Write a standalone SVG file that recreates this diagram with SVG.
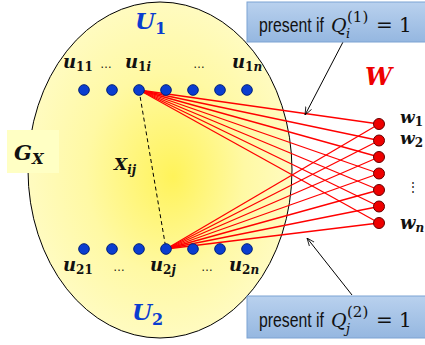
<svg xmlns="http://www.w3.org/2000/svg" width="425" height="345" viewBox="0 0 425 345">
<defs>
<radialGradient id="yel" cx="0.5" cy="0.5" r="0.5" fx="0.55" fy="0.52">
<stop offset="0" stop-color="#fff35a"/>
<stop offset="0.6" stop-color="#fff9a4"/>
<stop offset="1" stop-color="#fffbc0"/>
</radialGradient>
<linearGradient id="blu" x1="0" y1="0" x2="0" y2="1">
<stop offset="0" stop-color="#b9d1ee"/>
<stop offset="1" stop-color="#95b7e0"/>
</linearGradient>
<marker id="arr" viewBox="0 0 10 10" refX="10" refY="5" markerWidth="8" markerHeight="8" orient="auto" markerUnits="userSpaceOnUse">
<path d="M0,1 L10,5 L0,9" fill="none" stroke="#000" stroke-width="1"/>
</marker>
</defs>
<style>
.m{font-family:"DejaVu Serif","Liberation Serif",serif;font-weight:bold;font-style:italic;fill:#111}
.u{font-size:18px}
.s{font-size:12px;font-style:normal}
.si{font-size:12px}
.dots{font-family:"Liberation Sans",sans-serif;font-size:12px;fill:#111}
.bd{fill:#0a3dd0;stroke:#00207a;stroke-width:1}
.rd{fill:#ee0000;stroke:#600;stroke-width:1}
.re{stroke:#ff0000;stroke-width:1.3;fill:none}
.box{fill:url(#blu);stroke:#7da3d3;stroke-width:1}
.bt{font-family:"Liberation Sans","Open Sans",sans-serif;font-size:20px;fill:#111}
.q{font-family:"DejaVu Serif","Liberation Serif",serif;fill:#111}
</style>
<g id="ellipse">
<ellipse cx="160" cy="170" rx="132" ry="168" fill="url(#yel)" stroke="#000" stroke-width="1"/>
</g>
<g id="connectors">
<line x1="139" y1="90" x2="166" y2="249" stroke="#000" stroke-width="1" stroke-dasharray="4,3"/>
<g class="re">
<line x1="139" y1="90" x2="379" y2="124"/>
<line x1="139" y1="90" x2="379" y2="140.5"/>
<line x1="139" y1="90" x2="379" y2="157"/>
<line x1="139" y1="90" x2="379" y2="173.5"/>
<line x1="139" y1="90" x2="379" y2="190"/>
<line x1="139" y1="90" x2="379" y2="206.5"/>
<line x1="139" y1="90" x2="379" y2="223"/>
<line x1="166" y1="249" x2="379" y2="124"/>
<line x1="166" y1="249" x2="379" y2="140.5"/>
<line x1="166" y1="249" x2="379" y2="157"/>
<line x1="166" y1="249" x2="379" y2="173.5"/>
<line x1="166" y1="249" x2="379" y2="190"/>
<line x1="166" y1="249" x2="379" y2="206.5"/>
<line x1="166" y1="249" x2="379" y2="223"/>
</g>
<line x1="343" y1="42" x2="305" y2="115" stroke="#000" stroke-width="1" marker-end="url(#arr)"/>
<line x1="352" y1="295" x2="307" y2="238" stroke="#000" stroke-width="1" marker-end="url(#arr)"/>
</g>
<g id="U1">
<text x="135" y="29" class="m" font-size="23" style="fill:#0a3dd0">U<tspan font-size="16" font-style="normal" dy="5">1</tspan></text>
<g id="u1-dots">
<circle class="bd" cx="84" cy="90" r="5.3"/>
<circle class="bd" cx="112" cy="90" r="5.3"/>
<circle class="bd" cx="139" cy="90" r="5.3"/>
<circle class="bd" cx="166" cy="90" r="5.3"/>
<circle class="bd" cx="193" cy="90" r="5.3"/>
<circle class="bd" cx="220" cy="90" r="5.3"/>
<circle class="bd" cx="247" cy="90" r="5.3"/>
</g>
<text x="63" y="68" class="m u">u<tspan class="s" dy="3">11</tspan></text>
<text x="100" y="68" class="dots">…</text>
<text x="125" y="68" class="m u">u<tspan class="s" dy="3">1</tspan><tspan class="si">i</tspan></text>
<text x="193" y="68" class="dots">…</text>
<text x="232" y="68" class="m u">u<tspan class="s" dy="3">1</tspan><tspan class="si">n</tspan></text>
</g>
<g id="U2">
<text x="132" y="320" class="m" font-size="23" style="fill:#0a3dd0">U<tspan font-size="16" font-style="normal" dy="5">2</tspan></text>
<g id="u2-dots">
<circle class="bd" cx="84" cy="249" r="5.3"/>
<circle class="bd" cx="112" cy="249" r="5.3"/>
<circle class="bd" cx="139" cy="249" r="5.3"/>
<circle class="bd" cx="166" cy="249" r="5.3"/>
<circle class="bd" cx="193" cy="249" r="5.3"/>
<circle class="bd" cx="220" cy="249" r="5.3"/>
<circle class="bd" cx="247" cy="249" r="5.3"/>
</g>
<text x="63" y="271" class="m u">u<tspan class="s" dy="3">21</tspan></text>
<text x="113" y="271" class="dots">…</text>
<text x="150" y="271" class="m u">u<tspan class="s" dy="3">2</tspan><tspan class="si">j</tspan></text>
<text x="201" y="271" class="dots">…</text>
<text x="229" y="271" class="m u">u<tspan class="s" dy="3">2</tspan><tspan class="si">n</tspan></text>
</g>
<g id="W">
<text x="365" y="85" class="m" font-size="24" style="fill:#ee0000">W</text>
<circle class="rd" cx="379" cy="124" r="5.5"/>
<circle class="rd" cx="379" cy="140.5" r="5.5"/>
<circle class="rd" cx="379" cy="157" r="5.5"/>
<circle class="rd" cx="379" cy="173.5" r="5.5"/>
<circle class="rd" cx="379" cy="190" r="5.5"/>
<circle class="rd" cx="379" cy="206.5" r="5.5"/>
<circle class="rd" cx="379" cy="223" r="5.5"/>
<text x="400" y="123" class="m" font-size="17">w<tspan class="s" font-size="11" dy="3">1</tspan></text>
<text x="400" y="144" class="m" font-size="17">w<tspan class="s" font-size="11" dy="3">2</tspan></text>
<text x="413" y="191" class="dots" font-size="14" text-anchor="middle">⋮</text>
<text x="400" y="229" class="m u">w<tspan class="si" dy="3">n</tspan></text>
</g>
<g id="GX">
<rect x="7" y="130" width="52" height="43" fill="#ffffc4"/>
<text x="14" y="160" class="m" font-size="21">G<tspan font-size="15" dy="4">X</tspan></text>
</g>
<g id="Xij">
<text x="114" y="170" class="m" font-size="17">X<tspan class="si" dy="4">ij</tspan></text>
</g>
<g id="box1">
<rect class="box" x="247" y="2" width="185" height="40"/>
<text class="bt" transform="translate(259,32) scale(0.79,1)">present if</text>
<text x="331" y="32" class="q" font-size="19"><tspan font-style="italic">Q</tspan><tspan x="347" dy="-10" font-size="15">(1)</tspan><tspan x="346" dy="16" font-size="13" font-style="italic">i</tspan><tspan x="376" dy="-6" font-size="20">= 1</tspan></text>
</g>
<g id="box2">
<rect class="box" x="247" y="296" width="185" height="42"/>
<text class="bt" transform="translate(259,327) scale(0.79,1)">present if</text>
<text x="331" y="327" class="q" font-size="19"><tspan font-style="italic">Q</tspan><tspan x="347" dy="-10" font-size="15">(2)</tspan><tspan x="346" dy="16" font-size="13" font-style="italic">j</tspan><tspan x="376" dy="-6" font-size="20">= 1</tspan></text>
</g>
</svg>
